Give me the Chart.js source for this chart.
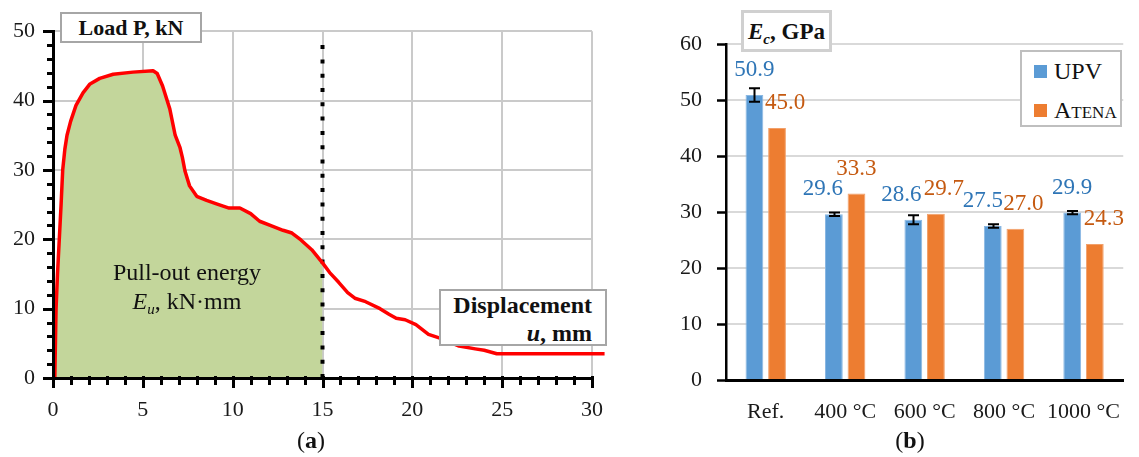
<!DOCTYPE html>
<html>
<head>
<meta charset="utf-8">
<script src="https://cdn.jsdelivr.net/npm/chart.js@4.4.1/dist/chart.umd.min.js"></script>
<style>
  html, body { margin: 0; padding: 0; background: #fff; }
  #fig { position: relative; width: 1139px; height: 457px; overflow: hidden;
         font-family: 'Liberation Serif', 'Times New Roman', serif; color: #111; }
  canvas { position: absolute; top: 0; }
  #cvA { left: 0; }
  #cvB { left: 660px; }
  .box { position: absolute; background: #fff; box-sizing: border-box;
         font-weight: bold; font-size: 22px; line-height: 1; white-space: nowrap; }
  .center { display: flex; align-items: center; justify-content: center; }
  .note { position: absolute; font-size: 24px; white-space: nowrap; transform: translate(-50%, -50%); }
  sub { font-size: 15px; vertical-align: -5px; line-height: 0; }
  #legend { position: absolute; left: 1020px; top: 50px; width: 102px; height: 77px;
            border: 2px solid #bfbfbf; box-sizing: border-box; background: #fff; }
  #legend .item { position: absolute; left: 12px; height: 26px; display: flex; align-items: center;
                  font-size: 24px; font-variant: small-caps; }
  #legend .sw { width: 13px; height: 13px; margin-right: 7px; }
</style>
</head>
<body>
<div id="fig">
  <canvas id="cvA" width="640" height="457"></canvas>
  <canvas id="cvB" width="479" height="457"></canvas>

  <div class="box center" style="left:60px;top:12px;width:142px;height:31px;border:2px solid #a6a6a6;">Load P, kN</div>
  <div class="note" style="left:187px;top:272px;">Pull-out energy</div>
  <div class="note" style="left:187px;top:301px;"><i>E</i><sub><i>u</i></sub>, kN·mm</div>
  <div class="box" style="left:439px;top:289px;width:168px;height:57px;border:2px solid #a6a6a6;text-align:right;padding-right:13px;line-height:28px;font-size:24px;">Displacement<br><i>u</i>, mm</div>

  <div class="box center" style="left:741px;top:10px;width:91px;height:42px;border:3px solid #d0d0d0;font-size:23px;"><span><i>E</i><sub><i>c</i></sub>, GPa</span></div>
  <div id="legend"></div>

  <div class="note" style="left:311px;top:440px;">(<b>a</b>)</div>
  <div class="note" style="left:910px;top:440px;">(<b>b</b>)</div>
</div>

<script>
// ---------- (a) pull-out load–displacement curve ----------
const dispMm = [0.10, 0.17, 0.25, 0.35, 0.45, 0.54, 0.66, 0.78, 0.98, 1.28, 1.67, 2.06, 2.6, 3.35, 4.45, 5.57,
  5.8, 6.1, 6.5, 6.8, 7.07, 7.2, 7.35, 7.6, 8.0, 8.55, 9.1, 9.8, 10.4, 11.0, 11.5, 12.2, 12.8, 13.3, 13.8, 14.4,
  15.0, 15.4, 15.9, 16.4, 16.8, 17.4, 18.2, 18.7, 19.1, 19.6, 20.2, 20.9, 21.7, 22.6, 23.5, 24.0, 24.7, 30.7, 30.7];
const loadKn = [0, 10, 15, 20, 25, 30, 33, 35, 37, 39.3, 41.1, 42.4, 43.2, 43.8, 44.1, 44.3,
  43.9, 42.1, 38.8, 35.0, 33.2, 31.8, 29.8, 27.7, 26.2, 25.6, 25.1, 24.5, 24.5, 23.7, 22.6, 21.9, 21.3, 20.9, 19.9, 18.5,
  16.6, 15.2, 13.8, 12.3, 11.5, 11.0, 10.0, 9.2, 8.6, 8.4, 7.7, 6.3, 5.6, 4.6, 4.2, 4.0, 3.5, 3.5, 0];
const energyLimitMm = 15;   // upper bound of the integrated pull-out energy
const guideTopKn = 49;      // height of the dotted limit line
const dispTicks = [0, 30, 5];   // min, max, step
const loadTicks = [0, 50, 10];

// ---------- (b) modulus of elasticity ----------
const groups = ['Ref.', '400 °C', '600 °C', '800 °C', '1000 °C'];
const upv = [50.9, 29.6, 28.6, 27.5, 29.9];
const upvErr = [1.2, 0.3, 0.8, 0.3, 0.3];
const atena = [45.0, 33.3, 29.7, 27.0, 24.3];
const modTicks = [0, 60, 10];

const serif = "'Liberation Serif', 'Times New Roman', serif";
const tickFont = { family: serif, size: 22 };
const tickColor = '#1a1a1a';

// tick marks that cross the axis line, major and minor
const crossTicks = {
  id: 'crossTicks',
  afterDraw(chart, args, o) {
    const ctx = chart.ctx;
    ctx.save();
    ctx.strokeStyle = o.color;
    ctx.lineWidth = o.width;
    ctx.beginPath();
    const drawAxis = (scale, minor, major, horiz, spec) => {
      if (!minor) return;
      const n = Math.round((scale.max - scale.min) / minor);
      for (let i = 0; i <= n; i++) {
        const v = scale.min + i * minor;
        const isMajor = Math.abs(v / major - Math.round(v / major)) < 1e-6;
        const out = isMajor ? spec.majorOut : spec.minorOut;
        const inn = isMajor ? spec.majorIn : spec.minorIn;
        if (out === 0 && inn === 0) continue;
        const p = Math.round(scale.getPixelForValue(v)) + 0.5;
        if (horiz) {
          const y0 = chart.chartArea.bottom;
          ctx.moveTo(p, y0 - inn); ctx.lineTo(p, y0 + out);
        } else {
          const x0 = chart.chartArea.left;
          ctx.moveTo(x0 + inn, p); ctx.lineTo(x0 - out, p);
        }
      }
    };
    if (o.x) drawAxis(chart.scales.x, o.x.minor, o.x.major, true, o.x);
    if (o.y) drawAxis(chart.scales.y, o.y.minor, o.y.major, false, o.y);
    ctx.stroke();
    ctx.restore();
  }
};

const curvePts = dispMm.map((x, i) => ({ x, y: loadKn[i] }));
const energyPts = curvePts.filter(p => p.x <= energyLimitMm);

new Chart(document.getElementById('cvA'), {
  type: 'line',
  data: {
    datasets: [
      { label: 'P', data: curvePts, borderColor: '#FF0000', borderWidth: 3.5, pointRadius: 0,
        fill: false, tension: 0, clip: false, borderJoinStyle: 'round', order: 1 },
      { label: 'limit', data: [{ x: energyLimitMm, y: 0 }, { x: energyLimitMm, y: guideTopKn }],
        borderColor: '#000', borderWidth: 4, borderDash: [4, 10.3], borderCapStyle: 'butt',
        pointRadius: 0, fill: false, order: 2 },
      { label: 'energy', data: energyPts, fill: 'origin', backgroundColor: '#C3D69B',
        borderWidth: 0, borderColor: 'rgba(0,0,0,0)', pointRadius: 0, tension: 0, order: 3 }
    ]
  },
  options: {
    responsive: false, animation: false, events: [],
    layout: { padding: { top: 24, left: 0, right: 48, bottom: 0 } },
    plugins: {
      legend: { display: false }, tooltip: { enabled: false },
      crossTicks: { color: '#000', width: 3,
        x: { minor: 1, major: 5, majorOut: 10, majorIn: 2, minorOut: 7, minorIn: 2 },
        y: { minor: 2, major: 10, majorOut: 10, majorIn: 2, minorOut: 6, minorIn: 2 } }
    },
    scales: {
      x: { type: 'linear', min: dispTicks[0], max: dispTicks[1],
        ticks: { stepSize: dispTicks[2], font: tickFont, color: tickColor, padding: 19, maxRotation: 0 },
        grid: { color: '#cacaca', lineWidth: 2, drawTicks: false },
        border: { display: true, color: '#000', width: 3, z: 1 },
        afterFit: s => { s.height = 79; } },
      y: { type: 'linear', min: loadTicks[0], max: loadTicks[1],
        ticks: { stepSize: loadTicks[2], font: tickFont, color: tickColor, padding: 18 },
        grid: { color: '#cacaca', lineWidth: 2, drawTicks: false },
        border: { display: true, color: '#000', width: 3, z: 1 },
        afterFit: s => { s.width = 53; } }
    }
  },
  plugins: [crossTicks]
});

// error bars on the UPV series
const errorBars = {
  id: 'errorBars',
  afterDatasetsDraw(chart, args, o) {
    const ctx = chart.ctx, ys = chart.scales.y;
    const meta = chart.getDatasetMeta(o.dataset);
    const vals = chart.data.datasets[o.dataset].data;
    ctx.save();
    ctx.strokeStyle = o.color; ctx.lineWidth = o.width;
    ctx.beginPath();
    meta.data.forEach((bar, i) => {
      const x = Math.round(bar.x) + 0.5;
      const t = ys.getPixelForValue(vals[i] + o.errors[i]);
      const b = ys.getPixelForValue(vals[i] - o.errors[i]);
      ctx.moveTo(x, t); ctx.lineTo(x, b);
      ctx.moveTo(x - o.cap / 2, t); ctx.lineTo(x + o.cap / 2, t);
      ctx.moveTo(x - o.cap / 2, b); ctx.lineTo(x + o.cap / 2, b);
    });
    ctx.stroke();
    ctx.restore();
  }
};

// value labels above each bar
const valueLabels = {
  id: 'valueLabels',
  afterDatasetsDraw(chart, args, o) {
    const ctx = chart.ctx;
    ctx.save();
    ctx.font = `${o.size}px ${serif}`;
    ctx.textAlign = 'center';
    ctx.textBaseline = 'middle';
    chart.data.datasets.forEach((ds, d) => {
      ctx.fillStyle = o.colors[d];
      chart.getDatasetMeta(d).data.forEach((bar, i) => {
        ctx.fillText(ds.data[i].toFixed(1), bar.x + o.nudge[d][i], bar.y - o.lift);
      });
    });
    ctx.restore();
  }
};

const barChart = new Chart(document.getElementById('cvB'), {
  type: 'bar',
  data: {
    labels: groups,
    datasets: [
      { label: 'UPV', data: upv, backgroundColor: '#5B9BD5', borderColor: '#8AB8E3', borderWidth: 1,
        categoryPercentage: 0.569, barPercentage: 0.787 },
      { label: 'Atena', data: atena, backgroundColor: '#ED7D31', borderColor: '#F2A06A', borderWidth: 1,
        categoryPercentage: 0.569, barPercentage: 0.787 }
    ]
  },
  options: {
    responsive: false, animation: false, events: [],
    layout: { padding: { top: 44, left: 0, right: 0, bottom: 0 } },
    plugins: {
      legend: { display: false }, tooltip: { enabled: false },
      errorBars: { dataset: 0, errors: upvErr, color: '#000', width: 2, cap: 11 },
      valueLabels: { size: 23, lift: 25, colors: ['#2E75B6', '#C55A11'],
        nudge: [[0, -11, -12, -10, 0], [8, 0, 8, 8, 9]] },
      crossTicks: { color: '#000', width: 2.5,
        y: { minor: 10, major: 10, majorOut: 9, majorIn: 0, minorOut: 9, minorIn: 0 } }
    },
    scales: {
      x: { ticks: { font: tickFont, color: tickColor, padding: 19, maxRotation: 0 },
        grid: { display: false, drawTicks: false },
        border: { display: true, color: '#000', width: 3, z: 1 },
        afterFit: s => { s.height = 77; } },
      y: { min: modTicks[0], max: modTicks[1],
        ticks: { stepSize: modTicks[2], font: tickFont, color: tickColor, padding: 24 },
        grid: { color: '#d9d9d9', lineWidth: 2, drawTicks: false },
        border: { display: true, color: '#000', width: 2.5, z: 1 },
        afterFit: s => { s.width = 66; } }
    }
  },
  plugins: [errorBars, valueLabels, crossTicks]
});

// legend built from the bar datasets
const legend = document.getElementById('legend');
barChart.data.datasets.forEach((ds, i) => {
  const item = document.createElement('div');
  item.className = 'item';
  item.style.top = (6 + i * 39) + 'px';
  const sw = document.createElement('span');
  sw.className = 'sw';
  sw.style.background = ds.backgroundColor;
  const tx = document.createElement('span');
  tx.textContent = ds.label;
  item.appendChild(sw); item.appendChild(tx);
  legend.appendChild(item);
});
</script>
</body>
</html>
